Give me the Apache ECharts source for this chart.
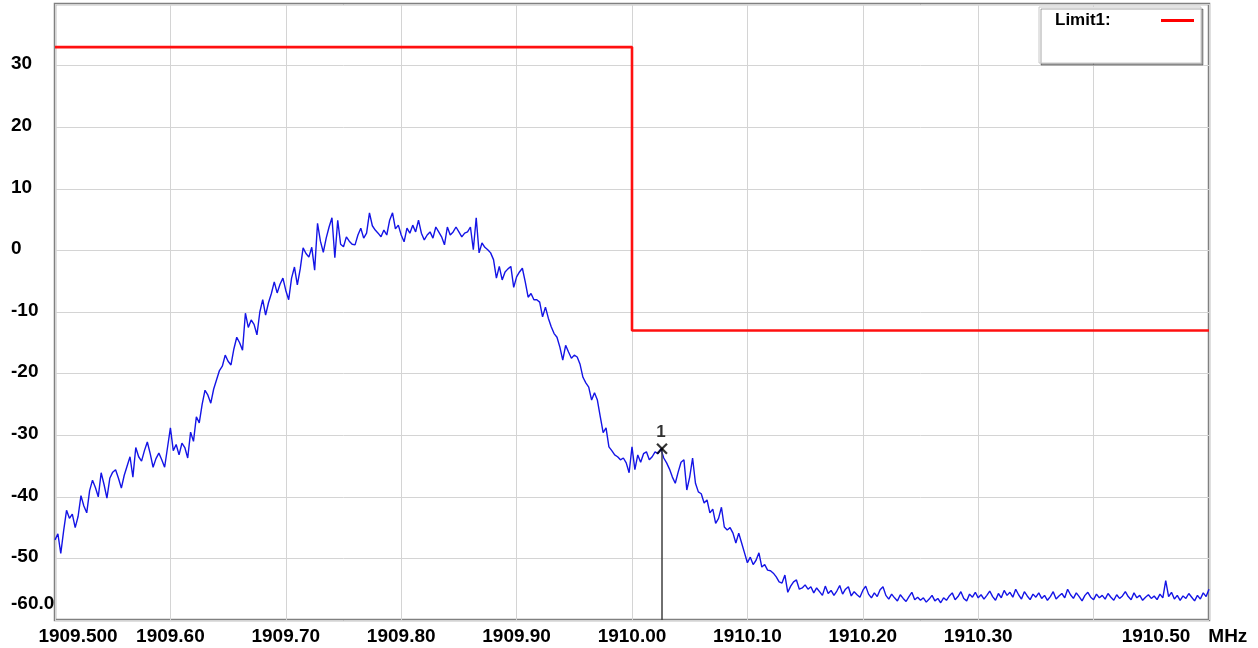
<!DOCTYPE html>
<html>
<head>
<meta charset="utf-8">
<script src="https://cdn.jsdelivr.net/npm/echarts@6/dist/echarts.min.js"></script>
<style>
html,body{margin:0;padding:0;background:#fff;}
#chart{width:1258px;height:648px;}
</style>
</head>
<body>
<div id="chart"></div>
<script>
// ---- data ----
const freqStart = 1909.5;   // MHz, first sweep point
const freqStep = 0.0025;    // MHz between sweep points
const traceDbm = [
-47.0,-46.0,-49.2,-45.5,-42.2,-43.5,-42.8,-45.0,-43.2,-39.8,
-41.5,-42.6,-39.0,-37.3,-38.5,-40.0,-36.1,-38.0,-40.2,-37.0,
-36.0,-35.6,-37.0,-38.6,-36.5,-35.0,-33.5,-36.8,-32.0,-33.5,
-34.2,-32.5,-31.1,-33.0,-35.2,-33.8,-32.9,-34.0,-35.2,-32.0,
-28.8,-32.5,-31.5,-33.2,-31.3,-32.0,-33.7,-29.5,-31.0,-27.0,
-28.0,-25.0,-22.7,-23.5,-24.8,-22.5,-21.0,-19.5,-18.8,-17.0,
-18.0,-18.6,-16.0,-14.1,-15.0,-16.2,-10.2,-12.5,-11.3,-12.0,
-13.7,-10.0,-8.0,-10.5,-8.5,-7.0,-5.1,-6.9,-5.5,-4.5,
-6.5,-8.0,-4.5,-2.7,-5.6,-3.0,0.4,-0.5,-1.1,0.5,
-3.2,4.4,1.5,-0.3,2.0,3.8,5.3,-1.2,4.9,1.0,
0.6,2.2,1.5,1.0,0.9,2.5,3.6,2.0,2.8,6.1,
4.0,3.3,2.8,2.2,3.3,2.5,4.9,6.1,3.5,4.1,
2.5,1.4,3.6,2.8,4.1,3.0,4.9,2.8,1.7,2.5,
3.0,2.0,3.8,3.0,2.2,0.9,3.8,2.5,3.0,3.8,
3.0,2.2,2.8,3.0,3.8,0.1,5.3,-0.4,1.2,0.5,
0.1,-0.4,-1.5,-4.5,-2.6,-4.8,-3.5,-3.0,-2.6,-6.0,
-4.3,-3.5,-2.9,-5.1,-7.6,-7.0,-8.0,-8.0,-8.4,-10.8,
-9.2,-11.0,-12.4,-13.5,-14.1,-15.7,-17.8,-15.4,-16.5,-17.5,
-17.0,-17.3,-18.5,-20.6,-21.5,-22.2,-24.3,-23.1,-24.3,-27.0,
-29.6,-28.8,-31.9,-32.5,-33.2,-33.5,-34.0,-33.7,-34.5,-36.1,
-31.9,-35.6,-33.2,-34.4,-33.0,-32.7,-34.0,-33.5,-32.7,-33.0,
-32.2,-33.7,-34.5,-35.5,-36.8,-37.8,-36.0,-34.4,-34.0,-38.9,
-36.8,-33.7,-37.8,-39.2,-39.5,-41.0,-40.5,-42.6,-42.0,-44.3,
-43.5,-41.7,-44.9,-45.4,-45.0,-45.9,-47.5,-45.9,-47.5,-49.1,
-50.7,-49.8,-51.0,-50.3,-49.1,-51.4,-51.0,-51.9,-52.0,-52.4,
-53.0,-53.8,-54.0,-52.7,-55.5,-54.5,-53.8,-53.5,-55.0,-54.8,
-54.3,-55.0,-54.6,-55.6,-54.8,-55.4,-56.0,-54.5,-55.7,-55.2,
-56.0,-55.3,-54.4,-55.8,-55.0,-54.6,-56.1,-55.4,-55.9,-56.3,
-55.2,-54.5,-55.8,-56.4,-55.6,-56.2,-55.1,-54.6,-56.0,-56.6,
-55.8,-56.4,-56.9,-55.9,-56.5,-57.0,-56.2,-55.5,-56.7,-56.3,
-56.8,-56.4,-57.1,-56.6,-56.0,-56.9,-56.5,-57.2,-56.4,-56.8,
-56.1,-55.6,-56.7,-56.2,-55.4,-56.5,-56.9,-55.8,-56.3,-55.5,
-56.4,-55.9,-56.6,-56.0,-55.3,-56.2,-56.8,-55.7,-56.4,-55.2,
-56.0,-55.5,-56.3,-55.0,-55.9,-56.6,-55.4,-56.1,-56.7,-55.8,
-56.3,-55.6,-56.5,-56.0,-56.8,-56.2,-55.4,-56.6,-56.1,-55.7,
-56.4,-55.0,-55.9,-56.5,-55.6,-56.2,-56.9,-56.0,-55.5,-56.3,
-56.7,-55.8,-56.4,-56.0,-56.6,-55.7,-56.3,-56.8,-55.9,-56.5,
-56.1,-55.4,-56.2,-56.7,-55.6,-56.4,-56.0,-56.8,-56.3,-55.9,
-56.5,-56.1,-56.7,-55.8,-56.4,-53.6,-56.2,-55.5,-56.6,-56.0,
-56.8,-56.1,-56.5,-55.7,-56.3,-56.9,-56.0,-56.6,-55.6,-56.2,
-55.0
];
const limitName = 'Limit1:';
const limitFreq = [1909.5, 1910.0, 1910.0, 1910.5];
const limitDbm = [33, 33, -13, -13];
const markerFreq = [1910.026];
const markerDbm = [-32.2];
const markerLabel = ['1'];
const xMin = 1909.5, xMax = 1910.5, xStep = 0.1;
const xTickLabels = ['1909.500','1909.60','1909.70','1909.80','1909.90','1910.00','1910.10','1910.20','1910.30','','1910.50'];
const xUnit = 'MHz';
const yMin = -60, yMax = 40, yStep = 10;
const yTickLabels = ['-60.0','-50','-40','-30','-20','-10','0','10','20','30',''];

// ---- build ----
const traceData = traceDbm.map((v, i) => [freqStart + i * freqStep, v]);
const limitData = limitFreq.map((f, i) => [f, limitDbm[i]]);
const markerLine = [[markerFreq[0], markerDbm[0]], [markerFreq[0], yMin]];

const FONT = '"Liberation Sans", Arial, sans-serif';
const TXT = { fontFamily: FONT, fontSize: 19, fontWeight: 'bold', color: '#000' };
const chart = echarts.init(document.getElementById('chart'), null, {renderer: 'canvas'});
chart.setOption({
  animation: false,
  backgroundColor: '#ffffff',
  grid: {
    left: 55, right: 49, top: 4, bottom: 28,
    show: true, borderColor: '#808080', borderWidth: 2.5, backgroundColor: '#ffffff'
  },
  legend: {
    show: true,
    data: [limitName],
    left: 1039, top: 7,
    align: 'right',
    orient: 'vertical',
    padding: [5, 7, 34, 16],
    itemWidth: 33, itemHeight: 3, itemGap: 5,
    icon: 'rect',
    backgroundColor: '#ffffff',
    borderColor: '#c8c8c8', borderWidth: 1,
    shadowColor: 'rgba(0,0,0,0.35)', shadowOffsetX: 2, shadowOffsetY: 2, shadowBlur: 0,
    formatter: (n) => '{a|' + n + '}',
    textStyle: {
      rich: { a: { width: 101, align: 'left', fontFamily: FONT, fontSize: 17, fontWeight: 'bold', color: '#000' } }
    }
  },
  xAxis: {
    type: 'value', min: xMin, max: xMax, interval: xStep,
    axisLine: { show: false }, axisTick: { show: false },
    splitLine: { show: true, lineStyle: { color: '#d4d4d4', width: 1 } },
    axisLabel: Object.assign({
      show: true, showMinLabel: true, showMaxLabel: true, margin: 7,
      formatter: (v) => {
        const k = Math.round((v - xMin) / xStep);
        const t = xTickLabels[k] || '';
        if (!t) return '';
        if (k === 0) return '{f|' + t + '}';
        if (k === xTickLabels.length - 1) return '{l|' + t + '}{u|' + xUnit + '}';
        return t;
      },
      rich: {
        f: Object.assign({ padding: [0, 0, 0, 46] }, TXT),
        l: Object.assign({}, TXT),
        u: Object.assign({ padding: [0, 49, 0, 18] }, TXT)
      }
    }, TXT)
  },
  yAxis: {
    type: 'value', min: yMin, max: yMax, interval: yStep,
    axisLine: { show: false }, axisTick: { show: false },
    splitLine: { show: true, lineStyle: { color: '#d4d4d4', width: 1 } },
    axisLabel: Object.assign({
      show: true, showMinLabel: true, showMaxLabel: true, margin: 44, align: 'left',
      formatter: (v) => {
        const k = Math.round((v - yMin) / yStep);
        const t = yTickLabels[k] || '';
        if (!t) return '';
        if (k === 0) return '{b|' + t + '}';
        return '{n|' + t + '}';
      },
      rich: {
        n: Object.assign({ padding: [0, 0, 3, 0] }, TXT),
        b: Object.assign({ padding: [0, 0, 32, 0] }, TXT)
      }
    }, TXT)
  },
  series: [
    {
      name: 'Trace', type: 'line', data: traceData, showSymbol: false, symbol: 'none',
      lineStyle: { color: '#1414e6', width: 1.4 }, z: 3
    },
    {
      name: limitName, type: 'line', data: limitData, showSymbol: false, symbol: 'none',
      itemStyle: { color: '#ff0000' },
      lineStyle: { color: '#ff1010', width: 2.6 }, z: 4
    },
    {
      name: 'MarkerLine', type: 'line', data: markerLine, showSymbol: false, symbol: 'none',
      lineStyle: { color: '#404040', width: 1.5 }, z: 5
    },
    {
      name: 'MarkerX', type: 'scatter', z: 6,
      data: [
        { value: [markerFreq[0], markerDbm[0]], symbolRotate: 45 },
        { value: [markerFreq[0], markerDbm[0]], symbolRotate: -45 }
      ],
      symbol: 'rect', symbolSize: [14, 2.2],
      itemStyle: { color: '#000' }
    },
    {
      name: 'MarkerLabel', type: 'scatter', z: 7,
      data: [[markerFreq[0], markerDbm[0]]],
      symbolSize: 0,
      label: {
        show: true, position: 'inside', offset: [-1, -16],
        formatter: () => markerLabel[0],
        fontFamily: FONT, fontSize: 17, fontWeight: 'bold', color: '#000'
      }
    }
  ]
});
</script>
</body>
</html>
